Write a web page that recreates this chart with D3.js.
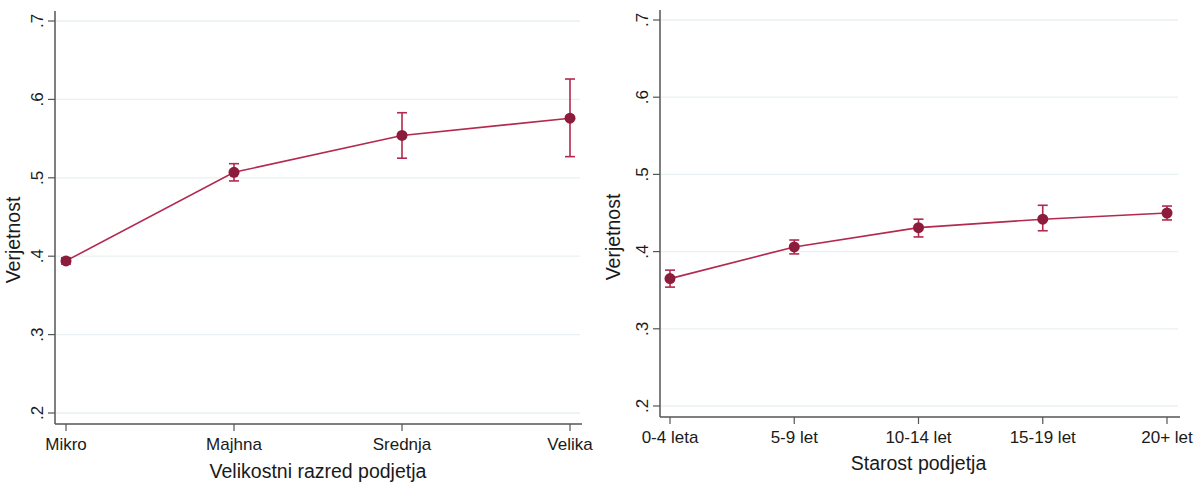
<!DOCTYPE html>
<html><head><meta charset="utf-8">
<script src="https://cdn.jsdelivr.net/npm/d3@7"></script>
<style>body{margin:0;background:#fff}svg{display:block}text{font-family:"Liberation Sans",Arial,sans-serif;fill:#1a1a1a}</style>
</head><body><svg id="c" width="1204" height="483"></svg>
<script>
const sizeCats = ["Mikro","Majhna","Srednja","Velika"];
const sizeEst  = [0.394, 0.507, 0.554, 0.576];
const sizeLo   = [0.390, 0.496, 0.525, 0.527];
const sizeHi   = [0.398, 0.518, 0.583, 0.626];

const ageCats = ["0-4 leta","5-9 let","10-14 let","15-19 let","20+ let"];
const ageEst  = [0.365, 0.406, 0.431, 0.442, 0.450];
const ageLo   = [0.354, 0.397, 0.419, 0.427, 0.441];
const ageHi   = [0.376, 0.415, 0.442, 0.460, 0.459];

const yTicks = [0.2,0.3,0.4,0.5,0.6,0.7];
const yTickLabels = [".2",".3",".4",".5",".6",".7"];

const svg = d3.select("#c");
const lineCol = "#B3294F", markCol = "#8C1C3C", gridCol = "#E8F1F3", axisCol = "#555";

function panel(o){
  const g = svg.append("g");
  const x = d3.scalePoint().domain(o.cats).range(o.xr);
  const y = d3.scaleLinear().domain([0.2,0.7]).range(o.yr);
  g.selectAll(".grid").data(yTicks).join("line")
    .attr("x1",o.ax+1).attr("x2",o.gridEnd)
    .attr("y1",d=>y(d)).attr("y2",d=>y(d))
    .attr("stroke",gridCol).attr("stroke-width",1.3);
  g.append("line").attr("x1",o.ax).attr("x2",o.ax).attr("y1",o.top).attr("y2",o.bottom)
    .attr("stroke",axisCol).attr("stroke-width",1.5);
  g.selectAll(".yt").data(yTicks).join("line")
    .attr("x1",o.ax-7).attr("x2",o.ax).attr("y1",d=>y(d)).attr("y2",d=>y(d))
    .attr("stroke",axisCol).attr("stroke-width",1.2);
  g.selectAll(".yl").data(yTicks).join("text")
    .attr("transform",d=>`translate(${o.ax-12},${y(d)}) rotate(-90)`)
    .attr("text-anchor","middle").attr("font-size",17).text((d,i)=>yTickLabels[i]);
  g.append("text").attr("transform",`translate(${o.ax-o.titleOff},${o.titleY}) rotate(-90)`)
    .attr("text-anchor","middle").attr("font-size",19.5).text("Verjetnost");
  g.append("line").attr("x1",o.ax).attr("x2",o.xEnd).attr("y1",o.bottom).attr("y2",o.bottom)
    .attr("stroke",axisCol).attr("stroke-width",1.5);
  g.selectAll(".xt").data(o.cats).join("line")
    .attr("x1",d=>x(d)).attr("x2",d=>x(d)).attr("y1",o.bottom).attr("y2",o.bottom+7)
    .attr("stroke",axisCol).attr("stroke-width",1.2);
  g.selectAll(".xl").data(o.cats).join("text")
    .attr("x",d=>x(d)).attr("y",o.bottom+26).attr("text-anchor","middle")
    .attr("font-size",17).text(d=>d);
  g.append("text").attr("x",(o.xr[0]+o.xr[1])/2).attr("y",o.xTitleY).attr("text-anchor","middle")
    .attr("font-size",19.5).text(o.xTitle);
  const pts = o.cats.map((c,i)=>({c,v:o.est[i],lo:o.lo[i],hi:o.hi[i]}));
  g.append("path").datum(pts).attr("fill","none").attr("stroke",lineCol).attr("stroke-width",1.6)
    .attr("d",d3.line().x(d=>x(d.c)).y(d=>y(d.v)));
  const eb = g.selectAll(".eb").data(pts).join("g");
  eb.append("line").attr("x1",d=>x(d.c)).attr("x2",d=>x(d.c)).attr("y1",d=>y(d.lo)).attr("y2",d=>y(d.hi))
    .attr("stroke",lineCol).attr("stroke-width",1.6);
  eb.append("line").attr("x1",d=>x(d.c)-5).attr("x2",d=>x(d.c)+5).attr("y1",d=>y(d.lo)).attr("y2",d=>y(d.lo))
    .attr("stroke",lineCol).attr("stroke-width",1.6);
  eb.append("line").attr("x1",d=>x(d.c)-5).attr("x2",d=>x(d.c)+5).attr("y1",d=>y(d.hi)).attr("y2",d=>y(d.hi))
    .attr("stroke",lineCol).attr("stroke-width",1.6);
  g.selectAll(".pt").data(pts).join("circle").attr("cx",d=>x(d.c)).attr("cy",d=>y(d.v)).attr("r",5.5)
    .attr("fill",markCol);
}

panel({cats:sizeCats, est:sizeEst, lo:sizeLo, hi:sizeHi, xr:[66,570], yr:[413,21],
  ax:55, top:11, bottom:424, xEnd:582, gridEnd:580, titleY:240, titleOff:35, xTitleY:478,
  xTitle:"Velikostni razred podjetja"});
panel({cats:ageCats, est:ageEst, lo:ageLo, hi:ageHi, xr:[670,1167], yr:[406,20],
  ax:660, top:10, bottom:417, xEnd:1180, gridEnd:1178, titleY:237, titleOff:40, xTitleY:470,
  xTitle:"Starost podjetja"});
</script></body></html>
